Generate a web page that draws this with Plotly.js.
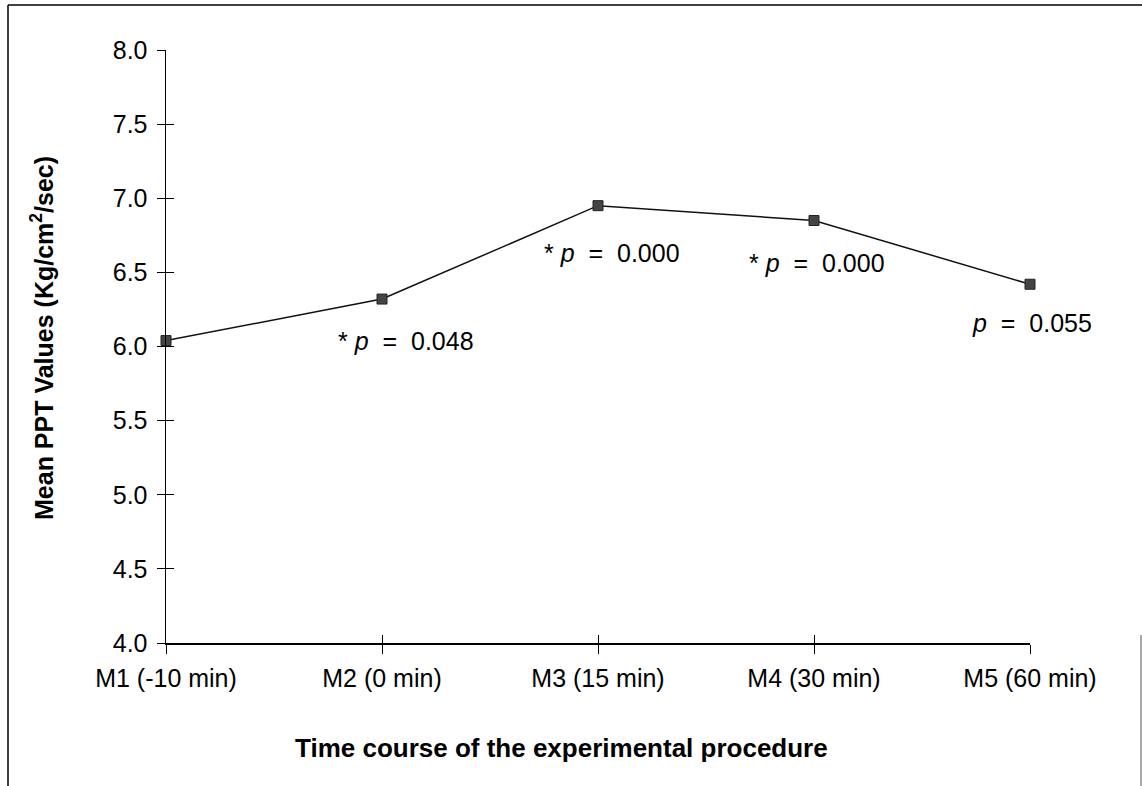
<!DOCTYPE html>
<html>
<head>
<meta charset="utf-8">
<script src="https://cdn.plot.ly/plotly-3.0.1.min.js"></script>
<style>html,body{margin:0;padding:0;background:#fff;}#chart{width:1142px;height:786px;}</style>
</head>
<body>
<div id="chart"></div>
<script>
const categories = ["M1 (-10 min)", "M2 (0 min)", "M3 (15 min)", "M4 (30 min)", "M5 (60 min)"];
const meanPPT = [6.04, 6.32, 6.95, 6.85, 6.42];
const pLabels = ["", "* <i>p</i>  =  0.048", "* <i>p</i>  =  0.000", "* <i>p</i>  =  0.000", "<i>p</i>  =  0.055"];
const pLabelY = [null, 6.04, 6.63, 6.56, 6.16];
const yTicks = [4.0, 4.5, 5.0, 5.5, 6.0, 6.5, 7.0, 7.5, 8.0];

const FONT = "Liberation Sans, Arial, sans-serif";
const idx = categories.map((c, i) => i);
const labelShift = [0, 24, 14, 3, 2];

const trace = {
  x: idx, y: meanPPT, type: "scatter", mode: "lines+markers", cliponaxis: false,
  line: {color: "#111", width: 1.5},
  marker: {symbol: "square", size: 10, color: "#444", line: {color: "#222", width: 1}},
  hoverinfo: "skip", showlegend: false
};
const trace2 = {x: idx, y: meanPPT, xaxis: "x2", yaxis: "y2", type: "scatter", mode: "none", showlegend: false, hoverinfo: "skip"};

const annotations = [];
pLabels.forEach((t, i) => {
  if (!t) return;
  annotations.push({x: idx[i], y: pLabelY[i], xref: "x", yref: "y", xshift: labelShift[i], text: t, showarrow: false,
    font: {family: FONT, size: 25, color: "#000"}, xanchor: "center", yanchor: "middle"});
});
annotations.push({x: 42, y: 338, xref: "paper", yref: "paper", text: "<b>Mean PPT Values (Kg/cm<sup>2</sup>/sec)</b>",
  showarrow: false, textangle: -90, font: {family: FONT, size: 25, color: "#000"}, xanchor: "center", yanchor: "middle"});
annotations.push({x: 561, y: 748, xref: "paper", yref: "paper", text: "<b>Time course of the experimental procedure</b>",
  showarrow: false, font: {family: FONT, size: 26, color: "#000"}, xanchor: "center", yanchor: "middle"});

const W = 1142, H = 786;
const L = 166, R = W - 1030, T = 50, B = H - 643;
annotations.forEach(a => {
  if (a.xref === "paper") {
    a.x = (a.x - L) / (W - L - R);
    a.y = 1 - (a.y - T) / (H - T - B);
  }
});

const layout = {
  width: W, height: H,
  margin: {l: L, r: R, t: T, b: B},
  paper_bgcolor: "#fff", plot_bgcolor: "#fff",
  font: {family: FONT, color: "#000"},
  xaxis: {
    range: [0, 4], tickvals: idx, ticktext: categories, showgrid: false, zeroline: false,
    showline: true, linecolor: "#000", linewidth: 1.5, ticks: "outside", ticklen: 9, tickcolor: "#000", tickwidth: 1,
    tickfont: {family: FONT, size: 25, color: "#000"}, ticklabelstandoff: 3, fixedrange: true
  },
  xaxis2: {
    range: [0, 4], tickvals: idx, showticklabels: false, overlaying: "x", anchor: "y", side: "bottom",
    showgrid: false, zeroline: false, showline: false, ticks: "inside", ticklen: 8, tickcolor: "#000", tickwidth: 1
  },
  yaxis: {
    range: [4, 8], tickvals: yTicks, tickformat: ".1f", showgrid: false, zeroline: false,
    showline: true, linecolor: "#000", linewidth: 1.5, ticks: "outside", ticklen: 8, tickcolor: "#000", tickwidth: 1,
    tickfont: {family: FONT, size: 25, color: "#000"}, ticklabelstandoff: 4, fixedrange: true
  },
  yaxis2: {
    range: [4, 8], tickvals: yTicks, showticklabels: false, overlaying: "y", anchor: "x", side: "left",
    showgrid: false, zeroline: false, showline: false, ticks: "inside", ticklen: 8, tickcolor: "#000", tickwidth: 1
  },
  annotations: annotations,
  shapes: [
    {type: "line", xref: "paper", yref: "paper", x0: (8 - L) / (W - L - R), x1: (1142 - L) / (W - L - R), y0: 1 + (T - 5) / (H - T - B), y1: 1 + (T - 5) / (H - T - B), line: {color: "#000", width: 1.5}},
    {type: "line", xref: "paper", yref: "paper", x0: (8 - L) / (W - L - R), x1: (8 - L) / (W - L - R), y0: 1 + (T - 5) / (H - T - B), y1: -(B) / (H - T - B), line: {color: "#000", width: 1.5}},
    {type: "line", xref: "paper", yref: "paper", x0: (1141 - L) / (W - L - R), x1: (1141 - L) / (W - L - R), y0: 1 - (635 - T) / (H - T - B), y1: -(B) / (H - T - B), line: {color: "#555", width: 1}}
  ]
};

Plotly.newPlot("chart", [trace, trace2], layout, {staticPlot: true, displayModeBar: false});
</script>
</body>
</html>
